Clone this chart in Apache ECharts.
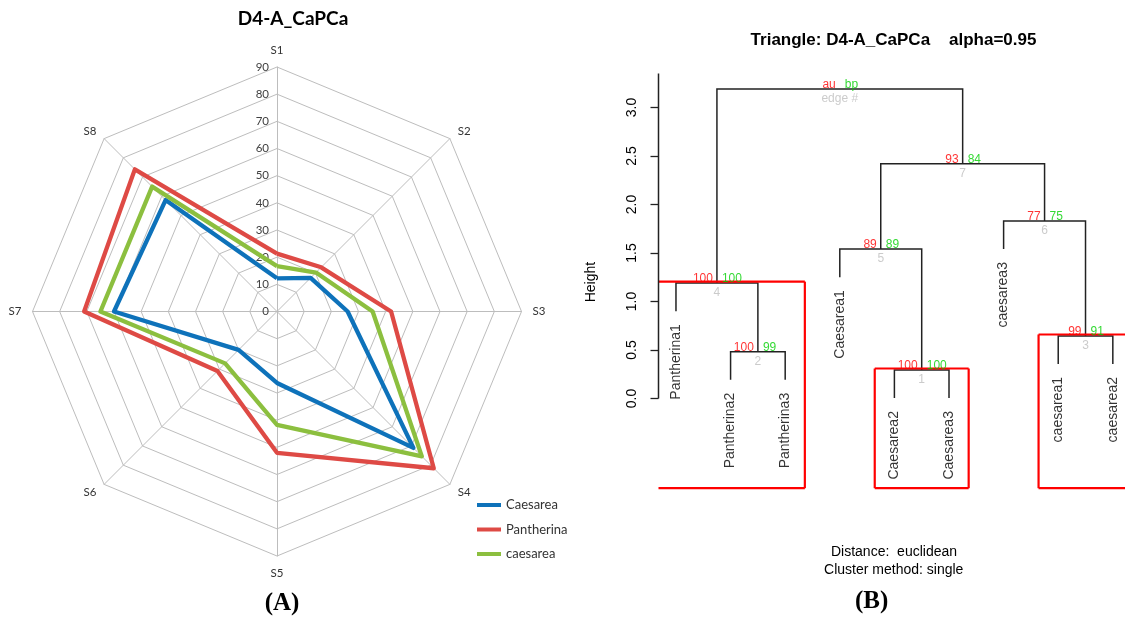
<!DOCTYPE html>
<html>
<head>
<meta charset="utf-8">
<script src="https://cdn.jsdelivr.net/npm/echarts@6/dist/echarts.min.js"></script>
<style>
html,body{margin:0;padding:0;background:#fff;}
#chart{width:1125px;height:618px;}
</style>
</head>
<body>
<div id="chart"></div>
<script>
// ---------- Radar (A) data ----------
const radarIndicators = ['S1', 'S2', 'S3', 'S4', 'S5', 'S6', 'S7', 'S8'];
const radarMax = 90;
const seriesNames = ['Caesarea', 'Pantherina', 'caesarea'];
const caesareaUpperValues = [12.2, 17.5, 26, 71, 26.3, 20, 60, 58];
const pantherinaValues = [21.3, 23, 42, 81.6, 52, 31, 71, 74];
const caesareaLowerValues = [16.7, 20.3, 35.2, 75.4, 41.7, 27, 65, 65];
const seriesColors = ['#0E72BA', '#DE4A45', '#8CBF3F'];

// ---------- Dendrogram (B) data ----------
const leafLabels = ['Pantherina1', 'Pantherina2', 'Pantherina3', 'Caesarea1', 'Caesarea2', 'Caesarea3', 'caesarea3', 'caesarea1', 'caesarea2'];
// negative = leaf position (1-based, plotted order), positive = merge row (1-based)
const mergeLeft = [-5, -2, -8, -1, -4, -7, 5, 4];
const mergeRight = [-6, -3, -9, 2, 1, 3, 6, 7];
const mergeHeight = [0.294, 0.482, 0.645, 1.19, 1.54, 1.83, 2.42, 3.19];
const auValues = ['100', '100', '99', '100', '89', '77', '93', 'au'];
const bpValues = ['100', '99', '91', '100', '89', '75', '84', 'bp'];
const edgeLabels = ['1', '2', '3', '4', '5', '6', '7', 'edge #'];
const highlightedEdges = [4, 1, 3];
const heightTicks = [0, 0.5, 1, 1.5, 2, 2.5, 3];

// ---------- derived ----------
function clockwise(arr) { return [arr[0]].concat(arr.slice(1).reverse()); }

const hang = 0.1 * (Math.max.apply(null, mergeHeight) - Math.min.apply(null, mergeHeight));
const mergeX = [];
const mergeLeaves = [];
function refX(r) { return r < 0 ? -r : mergeX[r - 1]; }
function refLeaves(r) { return r < 0 ? [-r] : mergeLeaves[r - 1]; }
const treeLines = [];
const leafEnd = {};
for (let i = 0; i < mergeHeight.length; i++) {
  const L = mergeLeft[i], R = mergeRight[i], h = mergeHeight[i];
  const lx = refX(L), rx = refX(R);
  mergeX.push((lx + rx) / 2);
  mergeLeaves.push(refLeaves(L).concat(refLeaves(R)));
  const lb = L < 0 ? h - hang : mergeHeight[L - 1];
  const rb = R < 0 ? h - hang : mergeHeight[R - 1];
  if (L < 0) leafEnd[-L] = lb;
  if (R < 0) leafEnd[-R] = rb;
  treeLines.push({ coords: [[lx, lb], [lx, h], [rx, h], [rx, rb]] });
}
const xMin = 0.68, xMax = leafLabels.length + 0.32;
const yMin = -0.96, yMax = 3.36;
const rectBottom = -0.925;
const rectPad = 0.36;
const rectLines = [];
highlightedEdges.forEach(function (e) {
  const lv = mergeLeaves[e - 1];
  const a = Math.min.apply(null, lv) - rectPad, b = Math.max.apply(null, lv) + rectPad;
  const top = mergeHeight[e - 1] + 0.015;
  const ca = Math.max(a, xMin), cb = Math.min(b, xMax);
  rectLines.push({ coords: [[ca, top], [cb, top]] });
  rectLines.push({ coords: [[ca, rectBottom], [cb, rectBottom]] });
  if (a >= xMin) rectLines.push({ coords: [[a, rectBottom], [a, top]] });
  if (b <= xMax) rectLines.push({ coords: [[b, rectBottom], [b, top]] });
});
const nodePoints = mergeHeight.map(function (h, i) { return [mergeX[i], h]; });
const leafPoints = leafLabels.map(function (n, i) { return [i + 1, leafEnd[i + 1]]; });

const RFONT = '"Liberation Sans", Arial, sans-serif';
const XFONT = 'Lato, "Open Sans", sans-serif';

const indicator = clockwise(radarIndicators).map(function (n, i) {
  const o = { name: n, min: 0, max: radarMax };
  if (i === 0) o.axisLabel = { show: true, color: '#404040', fontSize: 11.5, fontFamily: XFONT, margin: 8 };
  return o;
});

const chart = echarts.init(document.getElementById('chart'), null, { renderer: 'canvas' });
chart.setOption({
  animation: false,
  backgroundColor: '#fff',
  legend: {
    orient: 'vertical', left: 477, top: 497, padding: 0,
    itemWidth: 24, itemHeight: 4, itemGap: 8.5, icon: 'rect',
    textStyle: { fontSize: 13, fontFamily: XFONT, color: '#333', lineHeight: 16 },
    data: seriesNames
  },
  radar: {
    center: [277, 311.5], radius: 244.5, startAngle: 90, shape: 'polygon', splitNumber: 9,
    indicator: indicator,
    nameGap: 11,
    axisName: { color: '#333', fontSize: 11.5, fontFamily: XFONT },
    splitLine: { lineStyle: { color: '#BDBDBD', width: 1 } },
    splitArea: { show: false },
    axisLine: { lineStyle: { color: '#BDBDBD', width: 1 } },
    axisTick: { show: false },
    axisLabel: { show: false }
  },
  grid: { left: 658.5, top: 72.6, width: 471.8, height: 419, outerBoundsMode: 'none', containLabel: false },
  xAxis: { type: 'value', min: xMin, max: xMax, show: false },
  yAxis: {
    type: 'value', min: yMin, max: yMax,
    name: 'Height', nameLocation: 'middle', nameRotate: 90, nameGap: 60,
    nameTextStyle: { fontSize: 14, fontFamily: RFONT, color: '#000' },
    axisLine: { show: false },
    splitLine: { show: false },
    axisTick: { show: true, customValues: heightTicks, length: 8, lineStyle: { color: '#222', width: 1.3 } },
    axisLabel: { show: true, customValues: heightTicks, rotate: 90, margin: 19, fontSize: 14, fontFamily: RFONT, color: '#000',
      formatter: function (v) { return v.toFixed(1); } }
  },
  graphic: [
    { type: 'text', x: 293, y: 19, style: { text: 'D4-A_CaPCa', font: 'bold 19px Lato, sans-serif', fill: '#000', align: 'center', verticalAlign: 'middle' } },
    { type: 'text', x: 893.5, y: 40, style: { text: 'Triangle: D4-A_CaPCa    alpha=0.95', font: 'bold 17px "Liberation Sans", Arial', fill: '#000', align: 'center', verticalAlign: 'middle' } },
    { type: 'text', x: 894, y: 552.5, style: { text: 'Distance:  euclidean', font: '14px "Liberation Sans", Arial', fill: '#000', align: 'center', verticalAlign: 'middle' } },
    { type: 'text', x: 893.7, y: 570.5, style: { text: 'Cluster method: single', font: '14px "Liberation Sans", Arial', fill: '#000', align: 'center', verticalAlign: 'middle' } },
    { type: 'text', x: 282, y: 604, style: { text: '(A)', font: 'bold 25px "Liberation Serif", serif', fill: '#000', align: 'center', verticalAlign: 'middle' } },
    { type: 'text', x: 871.6, y: 602, style: { text: '(B)', font: 'bold 25px "Liberation Serif", serif', fill: '#000', align: 'center', verticalAlign: 'middle' } }
  ],
  series: [
    {
      type: 'radar', symbol: 'none',
      data: [
        { name: seriesNames[0], value: clockwise(caesareaUpperValues), itemStyle: { color: seriesColors[0] }, lineStyle: { color: seriesColors[0], width: 4.3 } },
        { name: seriesNames[1], value: clockwise(pantherinaValues), itemStyle: { color: seriesColors[1] }, lineStyle: { color: seriesColors[1], width: 4.3 } },
        { name: seriesNames[2], value: clockwise(caesareaLowerValues), itemStyle: { color: seriesColors[2] }, lineStyle: { color: seriesColors[2], width: 4.3 } }
      ]
    },
    {
      type: 'lines', coordinateSystem: 'cartesian2d', polyline: true, silent: true,
      lineStyle: { color: '#222', width: 1.5, opacity: 1 },
      data: treeLines
    },
    {
      type: 'lines', coordinateSystem: 'cartesian2d', polyline: true, silent: true, clip: false,
      lineStyle: { color: '#FF0000', width: 2.2, opacity: 1 },
      data: rectLines
    },
    {
      type: 'lines', coordinateSystem: 'cartesian2d', polyline: true, silent: true, clip: false,
      lineStyle: { color: '#222', width: 1.5, opacity: 1 },
      data: [{ coords: [[xMin, 0], [xMin, 3.35]] }]
    },
    {
      type: 'scatter', symbolSize: 0, silent: true, data: nodePoints,
      label: { show: true, position: [-4, 1.5], align: 'right', verticalAlign: 'bottom', fontSize: 12, fontFamily: RFONT, color: '#FF0000',
        formatter: function (p) { return auValues[p.dataIndex]; } }
    },
    {
      type: 'scatter', symbolSize: 0, silent: true, data: nodePoints,
      label: { show: true, position: [5, 1.5], align: 'left', verticalAlign: 'bottom', fontSize: 12, fontFamily: RFONT, color: '#00D000',
        formatter: function (p) { return bpValues[p.dataIndex]; } }
    },
    {
      type: 'scatter', symbolSize: 0, silent: true, data: nodePoints,
      label: { show: true, position: [0, 10], align: 'center', verticalAlign: 'middle', fontSize: 12, fontFamily: RFONT, color: '#BEBEBE',
        formatter: function (p) { return edgeLabels[p.dataIndex]; } }
    },
    {
      type: 'scatter', symbolSize: 0, silent: true, data: leafPoints,
      label: { show: true, position: [0, 13], align: 'right', verticalAlign: 'middle', rotate: 90, fontSize: 14, fontFamily: RFONT, color: '#000',
        formatter: function (p) { return leafLabels[p.dataIndex]; } }
    }
  ]
});
</script>
</body>
</html>
